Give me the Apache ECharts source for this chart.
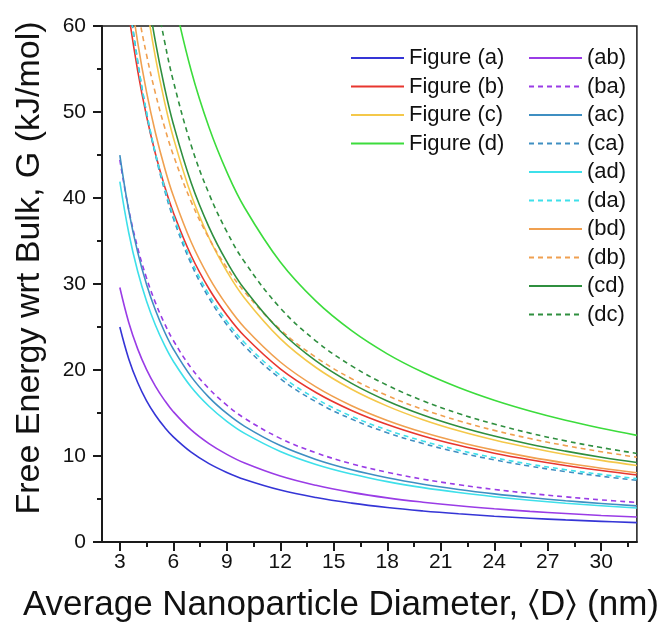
<!DOCTYPE html>
<html><head><meta charset="utf-8">
<script src="https://cdn.jsdelivr.net/npm/echarts@6.0.0/dist/echarts.min.js"></script>
<style>html,body{margin:0;padding:0;background:#fff}#c{width:662px;height:630px}</style>
</head><body><div id="c"></div>
<script>
// Average nanoparticle diameter <D> (nm)
const diameters = [3, 3.5, 4, 4.5, 5, 5.5, 6, 7, 8, 9, 10, 12, 14, 16, 18, 20, 22, 24, 26, 28, 30, 32];
// Free energy wrt bulk, G (kJ/mol)
const figA = [25.0, 21.29, 18.54, 16.41, 14.73, 13.36, 12.22, 10.44, 9.11, 8.09, 7.27, 6.04, 5.17, 4.52, 4.01, 3.61, 3.28, 3.00, 2.77, 2.57, 2.40, 2.25];
const figB = [69.87, 61.44, 54.82, 49.49, 45.11, 41.44, 38.32, 33.31, 29.45, 26.40, 23.92, 20.14, 17.39, 15.30, 13.66, 12.33, 11.24, 10.33, 9.56, 8.89, 8.31, 7.80];
const figC = [93.06, 80.01, 70.17, 62.49, 56.33, 51.27, 47.04, 40.38, 35.38, 31.48, 28.35, 23.65, 20.29, 17.76, 15.80, 14.22, 12.93, 11.86, 10.95, 10.17, 9.49, 8.90];
const figD = [121.1, 105.2, 93.01, 83.34, 75.48, 68.98, 63.52, 54.82, 48.22, 43.04, 38.87, 32.55, 28.00, 24.57, 21.88, 19.73, 17.96, 16.48, 15.23, 14.15, 13.22, 12.40];
const mixAB = [29.59, 25.53, 22.46, 20.04, 18.10, 16.50, 15.15, 13.03, 11.44, 10.19, 9.18, 7.67, 6.59, 5.77, 5.13, 4.63, 4.21, 3.86, 3.56, 3.31, 3.09, 2.90];
const mixBA = [44.42, 38.65, 34.21, 30.68, 27.81, 25.44, 23.43, 20.24, 17.82, 15.91, 14.38, 12.05, 10.37, 9.10, 8.11, 7.31, 6.66, 6.11, 5.65, 5.25, 4.90, 4.60];
const mixAC = [44.99, 38.54, 33.70, 29.94, 26.94, 24.48, 22.44, 19.23, 16.82, 14.95, 13.45, 11.21, 9.60, 8.40, 7.47, 6.72, 6.11, 5.60, 5.17, 4.80, 4.48, 4.20];
const mixCA = [73.86, 63.65, 55.93, 49.87, 45.00, 40.99, 37.64, 32.35, 28.37, 25.26, 22.76, 19.00, 16.31, 14.29, 12.71, 11.45, 10.41, 9.55, 8.82, 8.19, 7.65, 7.17];
const mixAD = [41.91, 35.96, 31.48, 28.00, 25.21, 22.92, 21.02, 18.02, 15.78, 14.03, 12.63, 10.53, 9.02, 7.90, 7.02, 6.32, 5.75, 5.27, 4.86, 4.51, 4.21, 3.95];
const mixDA = [72.90, 63.21, 55.80, 49.94, 45.19, 41.27, 37.97, 32.75, 28.78, 25.67, 23.17, 19.39, 16.67, 14.62, 13.02, 11.74, 10.68, 9.80, 9.05, 8.41, 7.86, 7.37];
const mixBD = [74.74, 65.40, 58.13, 52.32, 47.56, 43.60, 40.25, 34.88, 30.78, 27.54, 24.91, 20.93, 18.04, 15.85, 14.14, 12.76, 11.63, 10.68, 9.87, 9.18, 8.58, 8.05];
const mixDB = [76.40, 68.44, 61.98, 56.64, 52.14, 48.31, 45.00, 39.58, 35.32, 31.89, 29.07, 24.70, 21.47, 18.99, 17.02, 15.42, 14.10, 12.98, 12.03, 11.21, 10.50, 9.86];
const mixCD = [95.50, 82.27, 72.26, 64.43, 58.12, 52.94, 48.61, 41.77, 36.62, 32.60, 29.38, 24.53, 21.05, 18.44, 16.40, 14.77, 13.43, 12.32, 11.37, 10.57, 9.86, 9.25];
const mixDC = [104.1, 89.96, 79.21, 70.76, 63.93, 58.31, 53.60, 46.14, 40.50, 36.09, 32.55, 27.21, 23.37, 20.48, 18.23, 16.42, 14.94, 13.71, 12.66, 11.76, 10.98, 10.30];

const xMajorTicks = [3, 6, 9, 12, 15, 18, 21, 24, 27, 30];
const xMinorTicks = [4.5, 7.5, 10.5, 13.5, 16.5, 19.5, 22.5, 25.5, 28.5, 31.5];
const legendLeft = ['Figure (a)', 'Figure (b)', 'Figure (c)', 'Figure (d)'];
const legendRight = ['(ab)', '(ba)', '(ac)', '(ca)', '(ad)', '(da)', '(bd)', '(db)', '(cd)', '(dc)'];

const seriesDefs = [
  ['Figure (a)', figA, '#3535d6', 'solid'],
  ['Figure (b)', figB, '#e8362f', 'solid'],
  ['Figure (c)', figC, '#f4c84a', 'solid'],
  ['Figure (d)', figD, '#3cdc3c', 'solid'],
  ['(ab)', mixAB, '#9a3ce6', 'solid'],
  ['(ba)', mixBA, '#9a3ce6', 'dashed'],
  ['(ac)', mixAC, '#3f8fc2', 'solid'],
  ['(ca)', mixCA, '#3f8fc2', 'dashed'],
  ['(ad)', mixAD, '#3ee0ea', 'solid'],
  ['(da)', mixDA, '#3ee0ea', 'dashed'],
  ['(bd)', mixBD, '#f0a050', 'solid'],
  ['(db)', mixDB, '#f0a050', 'dashed'],
  ['(cd)', mixCD, '#2f8f3f', 'solid'],
  ['(dc)', mixDC, '#2f8f3f', 'dashed']
];

const font = 'Liberation Sans, Arial, sans-serif';
const axisColor = '#1a1a1a';
const legendCommon = {orient: 'vertical', top: 42, itemWidth: 53, itemHeight: 12, itemGap: 6.5,
  itemStyle: {opacity: 0, borderWidth: 0},
  textStyle: {fontSize: 22, lineHeight: 22, fontFamily: font, color: '#111'}};

const chart = echarts.init(document.getElementById('c'), null, {renderer: 'canvas'});
chart.setOption({
  animation: false,
  backgroundColor: '#fff',
  grid: {left: 102, right: 25, top: 26, bottom: 88, show: true, borderColor: axisColor, borderWidth: 1.5, backgroundColor: 'transparent'},
  legend: [
    Object.assign({data: legendLeft, left: 345}, legendCommon),
    Object.assign({data: legendRight, left: 523}, legendCommon)
  ],
  xAxis: [
    {type: 'value', min: 2, max: 32,
     name: 'Average Nanoparticle Diameter, \u2329D\u232A (nm)', nameLocation: 'middle', nameGap: 46,
     nameTextStyle: {fontSize: 35, fontFamily: font, color: '#111', padding: [0, 57, 0, 0]},
     axisLine: {show: true, onZero: false, lineStyle: {color: axisColor, width: 2}},
     axisTick: {show: true, customValues: xMajorTicks, length: 9, lineStyle: {color: axisColor, width: 2}},
     axisLabel: {customValues: xMajorTicks, fontSize: 21, fontFamily: font, color: '#111', margin: 10},
     splitLine: {show: false}},
    {type: 'value', min: 2, max: 32, position: 'bottom',
     axisLine: {show: false},
     axisTick: {show: true, customValues: xMinorTicks, length: 5, lineStyle: {color: axisColor, width: 2}},
     axisLabel: {show: false}, splitLine: {show: false}}
  ],
  yAxis: {type: 'value', min: 0, max: 60, interval: 10,
    name: 'Free Energy wrt Bulk, G (kJ/mol)', nameLocation: 'middle', nameGap: 55,
    nameTextStyle: {fontSize: 34, fontFamily: font, color: '#111', padding: [0, 0, 0, 32]},
    axisLine: {show: true, lineStyle: {color: axisColor, width: 2}},
    axisTick: {show: true, length: 9, lineStyle: {color: axisColor, width: 2}},
    minorTick: {show: true, splitNumber: 2, length: 5, lineStyle: {color: axisColor, width: 2}},
    axisLabel: {fontSize: 21, fontFamily: font, color: '#111', margin: 16},
    splitLine: {show: false}},
  series: seriesDefs.map(([name, vals, color, type]) => ({
    name, type: 'line', xAxisIndex: 0, symbol: 'none', smooth: 0.4, clip: true,
    color,
    lineStyle: {color, width: 1.6, type: type === 'dashed' ? [5, 4] : 'solid'},
    data: diameters.map((d, i) => [d, vals[i]])
  }))
});
</script></body></html>
